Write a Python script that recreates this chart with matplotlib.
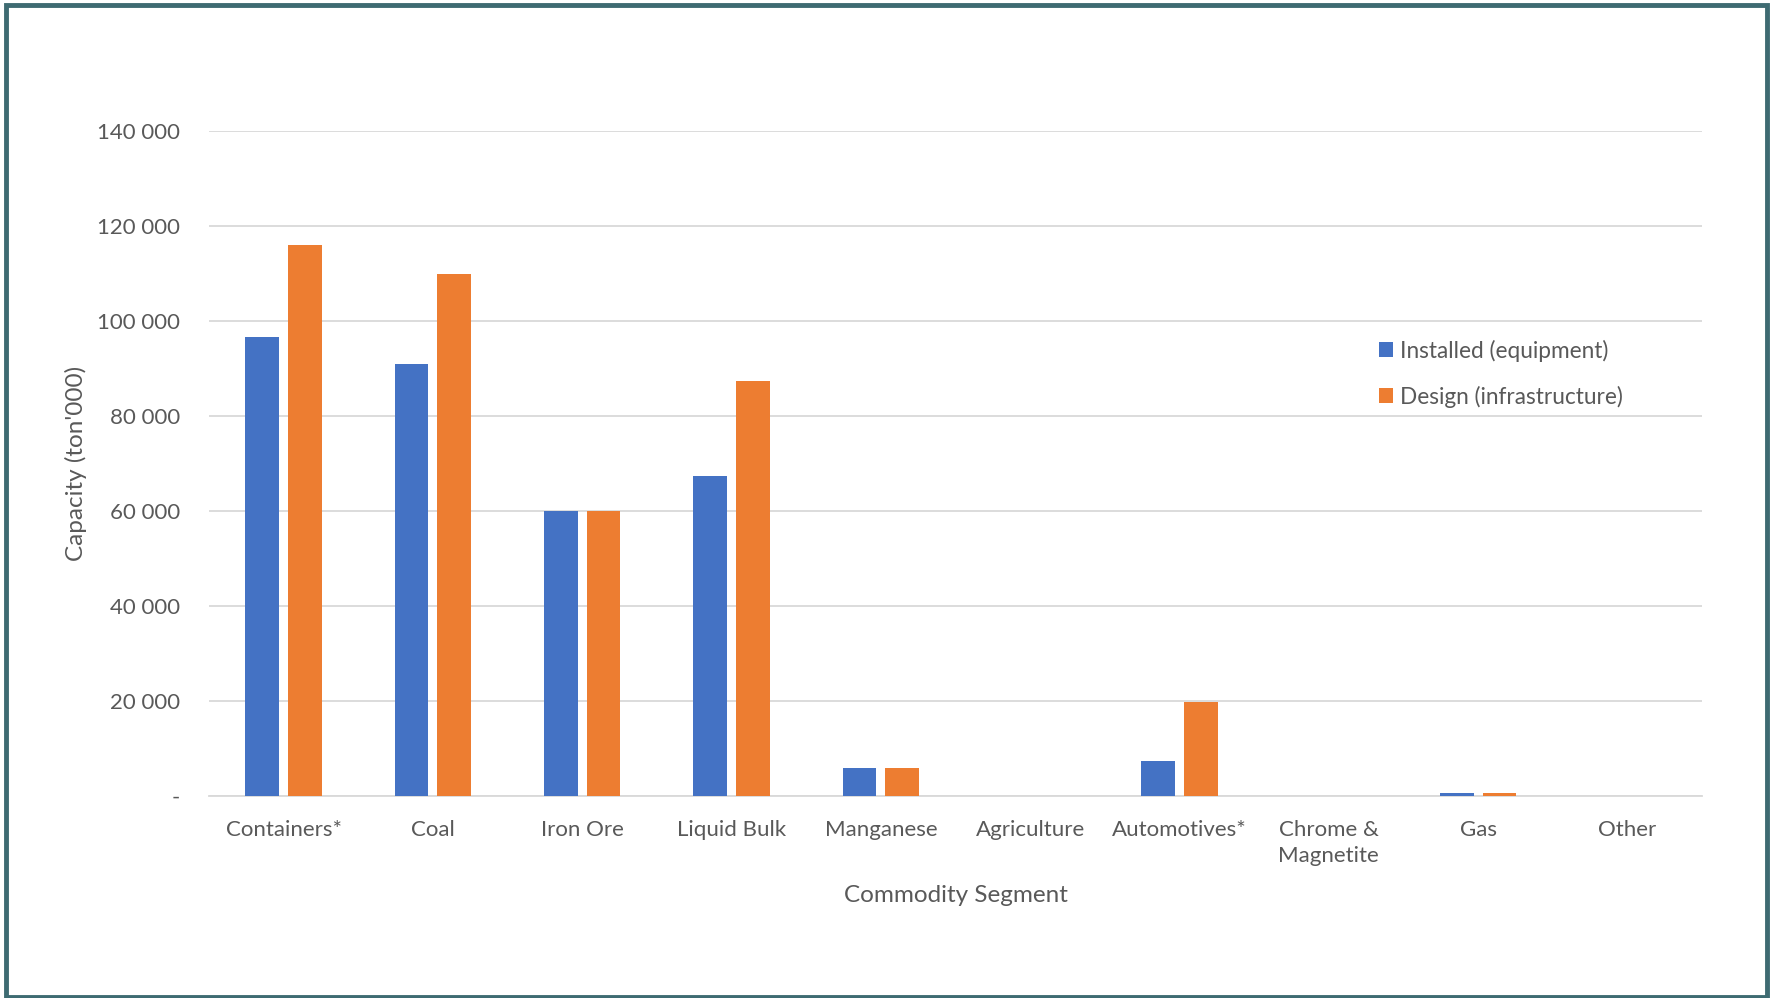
import matplotlib
matplotlib.use("Agg")
import matplotlib.pyplot as plt
import numpy as np
from matplotlib.patches import Rectangle
from matplotlib.ticker import FuncFormatter

categories = ["Containers*", "Coal", "Iron Ore", "Liquid Bulk", "Manganese",
              "Agriculture", "Automotives*", "Chrome &\nMagnetite", "Gas", "Other"]
installed = [96700, 91000, 60000, 67300, 6000, 0, 7400, 0, 600, 0]
design = [116000, 110000, 60000, 87300, 6000, 0, 19700, 0, 600, 0]
series_names = ["Installed (equipment)", "Design (infrastructure)"]
yticks = [0, 20000, 40000, 60000, 80000, 100000, 120000, 140000]

BLUE = "#4472C4"
ORANGE = "#ED7D31"
TXT = "#595959"

plt.rcParams['font.family'] = ['Lato', 'DejaVu Sans']

W, H = 1770, 998
fig = plt.figure(figsize=(W / 100, H / 100), dpi=100)
ax = fig.add_axes([209 / W, 1 - 796 / H, (1702 - 209) / W, (796 - 131) / H])

x = np.arange(len(categories))
bw = 0.226
off = 0.143
ax.bar(x - off, installed, bw, color=BLUE, label=series_names[0], zorder=3)
ax.bar(x + off, design, bw, color=ORANGE, label=series_names[1], zorder=3)

ax.set_xlim(-0.5, len(categories) - 0.5)
ax.set_ylim(0, 140000)
ax.set_yticks(yticks)

def fmt(v, pos):
    if v == 0:
        return "-"
    return f"{int(v):,}".replace(",", " ")

ax.yaxis.set_major_formatter(FuncFormatter(fmt))
ax.grid(axis='y', color="#d9d9d9", linewidth=1.3, zorder=0)
for s in ["top", "right", "left"]:
    ax.spines[s].set_visible(False)
ax.spines["bottom"].set_color("#d9d9d9")
ax.spines["bottom"].set_linewidth(1.3)
ax.tick_params(axis='both', length=0, labelsize=16, labelcolor=TXT)
ax.tick_params(axis='y', pad=21)
ax.tick_params(axis='x', pad=17)
ax.set_xticks(x)
ax.set_xticklabels(categories, linespacing=1.38)

ax.set_ylabel("Capacity (ton'000)", fontsize=17.5, color=TXT, labelpad=7)
ax.set_xlabel("Commodity Segment", fontsize=17.5, color=TXT, labelpad=14)

leg = ax.legend(loc="center left", bbox_to_anchor=(0.7835, 0.635), frameon=False,
                fontsize=16.3, labelcolor=TXT, handlelength=0.65, handleheight=0.65,
                handletextpad=0.3, labelspacing=1.05, borderpad=0, borderaxespad=0)

fig.patches.append(Rectangle((6 / W, 1.5 / H), (1767 - 6) / W, (993 - 1.5) / H,
                             transform=fig.transFigure, fill=False,
                             edgecolor="#3e6b72", linewidth=3.5))

fig.savefig("out.png", dpi=100, facecolor="white")
